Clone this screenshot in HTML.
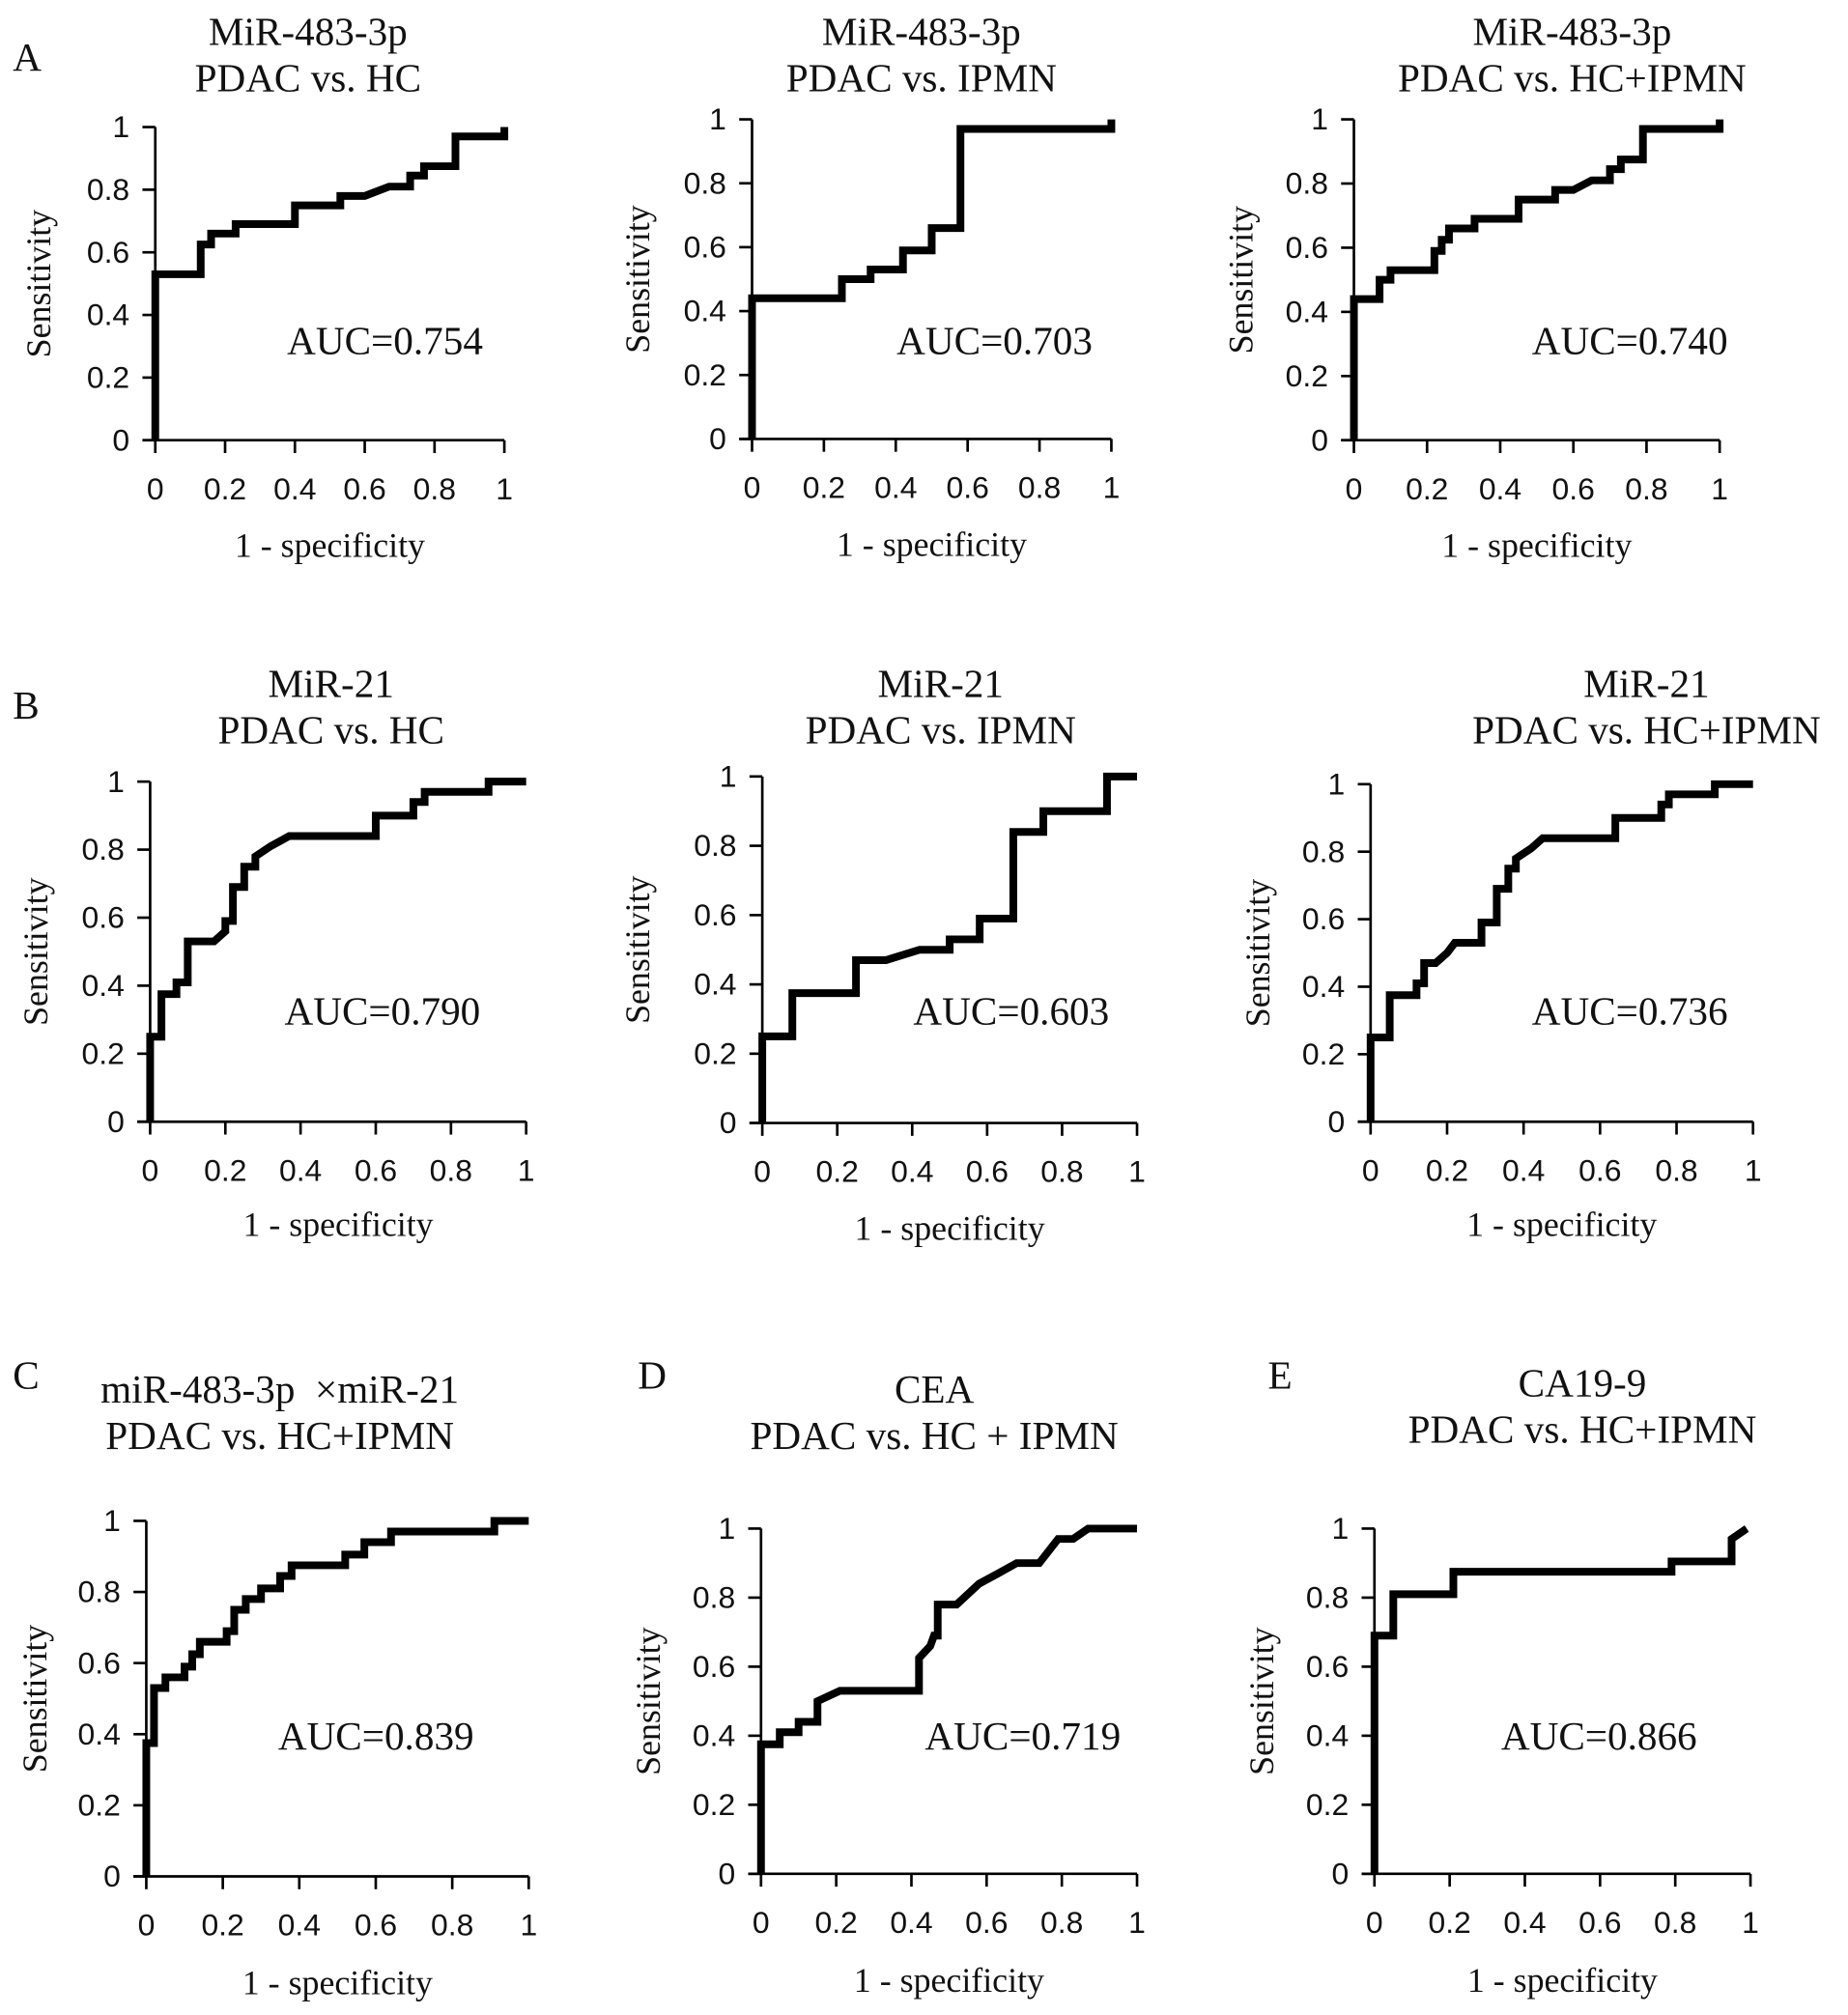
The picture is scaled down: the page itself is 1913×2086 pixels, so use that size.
<!DOCTYPE html>
<html><head><meta charset="utf-8"><style>
html,body{margin:0;padding:0;background:#fff;}
svg{display:block;}
.t{font-family:"Liberation Serif",serif;font-size:31px;fill:#111;}
.tk{font-family:"Liberation Sans",sans-serif;font-size:24px;fill:#111;}
.al{font-family:"Liberation Serif",serif;font-size:27px;fill:#111;}
</style></head><body>
<svg id="fig" width="1913" height="2086" viewBox="0 0 1440 1570" preserveAspectRatio="none" xmlns="http://www.w3.org/2000/svg"></svg>
<script>
// ROC data (fpr, tpr) per panel
const fprA1=[0,0,0.13,0.13,0.16,0.16,0.23,0.23,0.4,0.4,0.53,0.53,0.6,0.67,0.73,0.73,0.77,0.77,0.86,0.86,1,1];
const tprA1=[0,0.53,0.53,0.625,0.625,0.66,0.66,0.69,0.69,0.75,0.75,0.78,0.78,0.81,0.81,0.845,0.845,0.875,0.875,0.97,0.97,1];
const fprA2=[0,0,0.25,0.25,0.33,0.33,0.42,0.42,0.5,0.5,0.58,0.58,1,1];
const tprA2=[0,0.44,0.44,0.5,0.5,0.53,0.53,0.59,0.59,0.66,0.66,0.97,0.97,1];
const fprA3=[0,0,0.07,0.07,0.1,0.1,0.22,0.22,0.24,0.24,0.26,0.26,0.33,0.33,0.45,0.45,0.55,0.55,0.6,0.65,0.7,0.7,0.73,0.73,0.79,0.79,1,1];
const tprA3=[0,0.44,0.44,0.5,0.5,0.53,0.53,0.59,0.59,0.625,0.625,0.66,0.66,0.69,0.69,0.75,0.75,0.78,0.78,0.81,0.81,0.845,0.845,0.875,0.875,0.97,0.97,1];
const fprB1=[0,0,0.03,0.03,0.07,0.07,0.1,0.1,0.17,0.2,0.2,0.22,0.22,0.25,0.25,0.28,0.28,0.32,0.37,0.6,0.6,0.7,0.7,0.73,0.73,0.9,0.9,1];
const tprB1=[0,0.25,0.25,0.375,0.375,0.41,0.41,0.53,0.53,0.56,0.59,0.59,0.69,0.69,0.75,0.75,0.78,0.81,0.84,0.84,0.9,0.9,0.94,0.94,0.97,0.97,1,1];
const fprB2=[0,0,0.08,0.08,0.25,0.25,0.33,0.42,0.5,0.5,0.58,0.58,0.67,0.67,0.75,0.75,0.92,0.92,1];
const tprB2=[0,0.25,0.25,0.375,0.375,0.47,0.47,0.5,0.5,0.53,0.53,0.59,0.59,0.84,0.84,0.9,0.9,1,1];
const fprB3=[0,0,0.05,0.05,0.12,0.12,0.14,0.14,0.17,0.2,0.22,0.29,0.29,0.33,0.33,0.36,0.36,0.38,0.38,0.42,0.45,0.64,0.64,0.76,0.76,0.78,0.78,0.9,0.9,1];
const tprB3=[0,0.25,0.25,0.375,0.375,0.41,0.41,0.47,0.47,0.5,0.53,0.53,0.59,0.59,0.69,0.69,0.75,0.75,0.78,0.81,0.84,0.84,0.9,0.9,0.94,0.94,0.97,0.97,1,1];
const fprC=[0,0,0.02,0.02,0.05,0.05,0.1,0.1,0.12,0.12,0.14,0.14,0.21,0.21,0.23,0.23,0.26,0.26,0.3,0.3,0.35,0.35,0.38,0.38,0.52,0.52,0.57,0.57,0.64,0.64,0.91,0.91,1];
const tprC=[0,0.375,0.375,0.53,0.53,0.56,0.56,0.59,0.59,0.625,0.625,0.66,0.66,0.69,0.69,0.75,0.75,0.78,0.78,0.81,0.81,0.845,0.845,0.875,0.875,0.905,0.905,0.94,0.94,0.97,0.97,1,1];
const fprD=[0,0,0.05,0.05,0.1,0.1,0.15,0.15,0.21,0.42,0.42,0.45,0.46,0.47,0.47,0.52,0.58,0.63,0.68,0.74,0.79,0.83,0.87,1];
const tprD=[0,0.375,0.375,0.41,0.41,0.44,0.44,0.5,0.53,0.53,0.625,0.66,0.69,0.69,0.78,0.78,0.84,0.87,0.9,0.9,0.97,0.97,1,1];
const fprE=[0,0,0.05,0.05,0.21,0.21,0.79,0.79,0.95,0.95,0.99];
const tprE=[0,0.69,0.69,0.81,0.81,0.875,0.875,0.905,0.905,0.97,1];
const tickLabels=["0","0.2","0.4","0.6","0.8","1"];
const tickValues=[0,0.2,0.4,0.6,0.8,1];

const NS="http://www.w3.org/2000/svg";
const svg=document.getElementById('fig');
function mk(tag,attrs,parent,text){const e=document.createElementNS(NS,tag);for(const k in attrs)e.setAttribute(k,attrs[k]);if(text!==undefined)e.textContent=text;(parent||svg).appendChild(e);return e;}

const panels=[
 {id:'a1',x0:121,x1:393,y0:343,y1:99,fpr:fprA1,tpr:tprA1,t1:'MiR-483-3p',t2:'PDAC vs. HC',tx:240,ty:35,auc:'AUC=0.754',ax:300,ay:276,sx:30,ly:434},
 {id:'a2',x0:586,x1:866,y0:342,y1:93,fpr:fprA2,tpr:tprA2,t1:'MiR-483-3p',t2:'PDAC vs. IPMN',tx:718,ty:35,auc:'AUC=0.703',ax:775,ay:276,sx:497,ly:433},
 {id:'a3',x0:1055,x1:1340,y0:343,y1:93,fpr:fprA3,tpr:tprA3,t1:'MiR-483-3p',t2:'PDAC vs. HC+IPMN',tx:1225,ty:35,auc:'AUC=0.740',ax:1270,ay:276,sx:967,ly:434},
 {id:'b1',x0:117,x1:410,y0:874,y1:609,fpr:fprB1,tpr:tprB1,t1:'MiR-21',t2:'PDAC vs. HC',tx:258,ty:543,auc:'AUC=0.790',ax:298,ay:798,sx:28,ly:963},
 {id:'b2',x0:594,x1:886,y0:875,y1:605,fpr:fprB2,tpr:tprB2,t1:'MiR-21',t2:'PDAC vs. IPMN',tx:733,ty:543,auc:'AUC=0.603',ax:788,ay:798,sx:497,ly:966,big:true},
 {id:'b3',x0:1068,x1:1366,y0:874,y1:611,fpr:fprB3,tpr:tprB3,t1:'MiR-21',t2:'PDAC  vs. HC+IPMN',tx:1283,ty:543,auc:'AUC=0.736',ax:1270,ay:798,sx:980,ly:963},
 {id:'c',x0:114,x1:412,y0:1462,y1:1185,fpr:fprC,tpr:tprC,t1:'miR-483-3p \u00a0\u00d7miR-21',t2:'PDAC vs. HC+IPMN',tx:218,ty:1093,auc:'AUC=0.839',ax:293,ay:1363,sx:27,ly:1554},
 {id:'d',x0:593,x1:886,y0:1460,y1:1191,fpr:fprD,tpr:tprD,t1:'CEA',t2:'PDAC vs. HC + IPMN',tx:728,ty:1093,auc:'AUC=0.719',ax:797,ay:1363,sx:505,ly:1552},
 {id:'e',x0:1071,x1:1364,y0:1460,y1:1191,fpr:fprE,tpr:tprE,t1:'CA19-9',t2:'PDAC vs. HC+IPMN',tx:1233,ty:1088,auc:'AUC=0.866',ax:1246,ay:1363,sx:983,ly:1552}
];
const letters=[['A',10,55],['B',10,560],['C',10,1082],['D',497,1082],['E',988,1082]];
letters.forEach(l=>{
  const e=mk('text',{x:l[1],y:l[2],class:'t','font-size':28},svg,l[0]);
  
  
});

panels.forEach(p=>{
  const g=mk('g',{});
  
  
  const X=v=>p.x0+v*(p.x1-p.x0);
  const Y=v=>p.y0-v*(p.y0-p.y1);
  const t1=mk('text',{x:p.tx,y:p.ty,class:'t','text-anchor':'middle'},g,p.t1);
  
  
  const t2=mk('text',{x:p.tx,y:p.ty+36,class:'t','text-anchor':'middle'},g,p.t2);
  
  
  const ya=mk('line',{x1:p.x0,y1:p.y0,x2:p.x0,y2:p.y1,stroke:'#000','stroke-width':2},g);
  
  
  const xa=mk('line',{x1:p.x0-10,y1:p.y0,x2:p.x1,y2:p.y0,stroke:'#000','stroke-width':2},g);
  
  
  const fs=p.big?28:24;
  tickValues.forEach((v,i)=>{
    mk('line',{x1:p.x0-10,y1:Y(v),x2:p.x0,y2:Y(v),stroke:'#000','stroke-width':2},g);
    mk('line',{x1:X(v),y1:p.y0,x2:X(v),y2:p.y0+10,stroke:'#000','stroke-width':2},g);
    const yl=mk('text',{x:p.x0-20,y:Y(v)+8,class:'tk','text-anchor':'end','font-size':fs},g,tickLabels[i]);
    
    
    const xl=mk('text',{x:X(v),y:p.y0+46,class:'tk','text-anchor':'middle','font-size':fs},g,tickLabels[i]);
    
    
  });
  const yc=(p.y0+p.y1)/2;
  const st=mk('text',{x:p.sx,y:yc,class:'al','text-anchor':'middle',transform:`rotate(-90 ${p.sx} ${yc})`,dy:9},g,'Sensitivity');
  
  
  const xt=mk('text',{x:(p.x0+p.x1)/2,y:p.ly,class:'al','text-anchor':'middle'},g,'1 - specificity');
  
  
  const pts=p.fpr.map((f,i)=>X(f).toFixed(1)+','+Y(p.tpr[i]).toFixed(1)).join(' ');
  const line=mk('polyline',{points:pts,fill:'none',stroke:'#000','stroke-width':6,'stroke-linejoin':'miter'},g);
  
  
  const au=mk('text',{x:p.ax,y:p.ay,class:'t','text-anchor':'middle'},g,p.auc);
  
  
});
</script>
</body></html>
